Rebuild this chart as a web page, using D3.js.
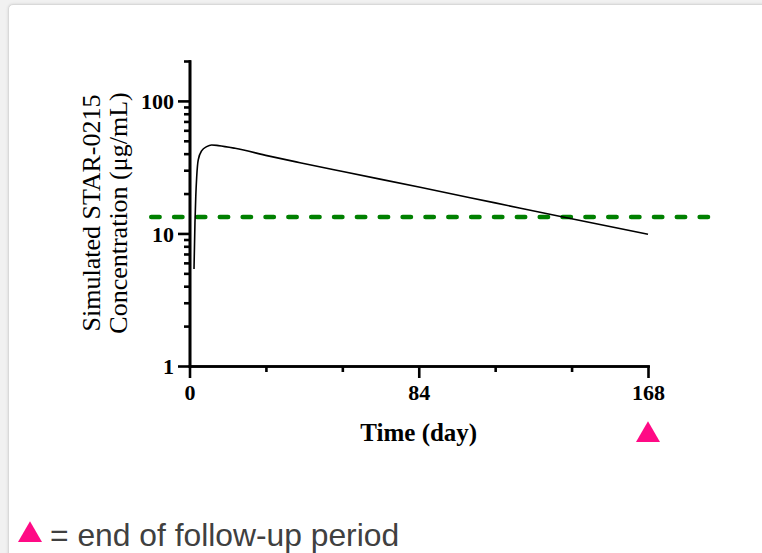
<!DOCTYPE html>
<html>
<head>
<meta charset="utf-8">
<script src="https://cdn.jsdelivr.net/npm/d3@7"></script>
<style>
  html, body { margin: 0; padding: 0; background: #f1f1f1; }
  body { width: 762px; height: 553px; overflow: hidden; position: relative; }
  .card {
    position: absolute; left: 8px; top: 4px; width: 780px; height: 600px;
    background: #fff; border: 1px solid #d9d9d9; border-radius: 5px;
    box-shadow: 0 0 3px rgba(0,0,0,0.12);
  }
  svg { position: absolute; left: 0; top: 0; }
  .axis path, .axis line { stroke: #000; stroke-width: 2.6; }
  .tick-label { font-family: "Liberation Serif", "Times New Roman", serif; font-weight: bold; font-size: 22px; fill: #000; }
</style>
</head>
<body>
<div class="card"></div>
<svg id="chart" width="762" height="553"></svg>
<script>
// simulated concentration profile
const days = [1.65, 2.0, 2.3, 2.64, 3.2, 4.5, 6.3, 8.1, 10.6, 16.7, 28.8, 40.5, 56.6, 84.5, 112, 140, 168];
const conc = [5.4, 12, 19, 26.8, 35.9, 42.2, 45.2, 46.5, 46, 43.9, 38.5, 34.2, 29.2, 22.3, 17, 12.9, 9.86];

// threshold (green dashed), drawn across the plot
const thresholdValue = 13.3;
const thresholdDays = [-14, 191.5];

const xMajorTicks = [0, 84, 168];
const xMinorTicks = [28, 56, 112, 140];
const yMajorTicks = [1, 10, 100];
const yMinorTicks = [2, 3, 4, 5, 6, 7, 8, 9, 20, 30, 40, 50, 60, 70, 80, 90, 200];

const followUpEnd = 168;

const svg = d3.select('#chart');

const x = d3.scaleLinear().domain([0, 168]).range([189.5, 648]);
const y = d3.scaleLog().domain([1, 200]).range([366, 61]);

// y axis (minor first, then major with labels)
svg.append('g')
  .attr('class', 'axis')
  .attr('transform', 'translate(' + x(0) + ',0)')
  .call(d3.axisLeft(y).tickValues(yMinorTicks).tickSize(5.5).tickSizeOuter(0).tickFormat(''));
const yAxis = svg.append('g')
  .attr('class', 'axis')
  .attr('transform', 'translate(' + x(0) + ',0)')
  .call(d3.axisLeft(y).tickValues(yMajorTicks).tickSize(11.5).tickSizeOuter(0).tickPadding(4).tickFormat(d3.format('d')));
yAxis.selectAll('.tick text').attr('class', 'tick-label').attr('dy', '0.36em');

// x axis
svg.append('g')
  .attr('class', 'axis')
  .attr('transform', 'translate(0,' + y(1) + ')')
  .call(d3.axisBottom(x).tickValues(xMinorTicks).tickSize(6).tickSizeOuter(0).tickFormat(''));
const xAxis = svg.append('g')
  .attr('class', 'axis')
  .attr('transform', 'translate(0,' + y(1) + ')')
  .call(d3.axisBottom(x).tickValues(xMajorTicks).tickSize(12).tickSizeOuter(0).tickPadding(6).tickFormat(d3.format('d')));
xAxis.selectAll('.tick text').attr('class', 'tick-label');
svg.selectAll('.axis .domain').attr('stroke-linecap', 'square');

// threshold line
svg.append('line')
  .attr('x1', x(thresholdDays[0]))
  .attr('x2', x(thresholdDays[1]))
  .attr('y1', y(thresholdValue))
  .attr('y2', y(thresholdValue))
  .attr('stroke', '#008000')
  .attr('stroke-width', 4.6)
  .attr('stroke-linecap', 'round')
  .attr('stroke-dasharray', '8.3,14.55');

// concentration curve
svg.append('path')
  .datum(days.map((d, i) => [d, conc[i]]))
  .attr('fill', 'none')
  .attr('stroke', '#000')
  .attr('stroke-width', 1.6)
  .attr('d', d3.line().x(d => x(d[0])).y(d => y(d[1])).curve(d3.curveMonotoneX));

// axis titles
const yTitle = svg.append('text')
  .attr('transform', 'translate(100,213) rotate(-90)')
  .attr('text-anchor', 'middle')
  .style('font-family', '"Liberation Serif", "Times New Roman", serif')
  .style('font-size', '26px');
yTitle.append('tspan').attr('x', 0).attr('y', 0).text('Simulated STAR-0215');
yTitle.append('tspan').attr('x', 0).attr('y', 27).text('Concentration (μg/mL)');

svg.append('text')
  .attr('x', x(84))
  .attr('y', 441)
  .attr('text-anchor', 'middle')
  .style('font-family', '"Liberation Serif", "Times New Roman", serif')
  .style('font-weight', 'bold')
  .style('font-size', '25px')
  .text('Time (day)');

// follow-up marker
const tri = d3.symbol().type(d3.symbolTriangle).size(250);
svg.append('path')
  .attr('d', tri())
  .attr('transform', 'translate(' + x(followUpEnd) + ',435)')
  .attr('fill', '#ff0a85');

// legend
svg.append('path')
  .attr('d', tri())
  .attr('transform', 'translate(30,535)')
  .attr('fill', '#ff0a85');
svg.append('text')
  .attr('x', 50)
  .attr('y', 546)
  .style('font-family', '"Liberation Sans", Arial, sans-serif')
  .style('font-size', '31.8px')
  .style('fill', '#404040')
  .text('= end of follow-up period');
</script>
</body>
</html>
